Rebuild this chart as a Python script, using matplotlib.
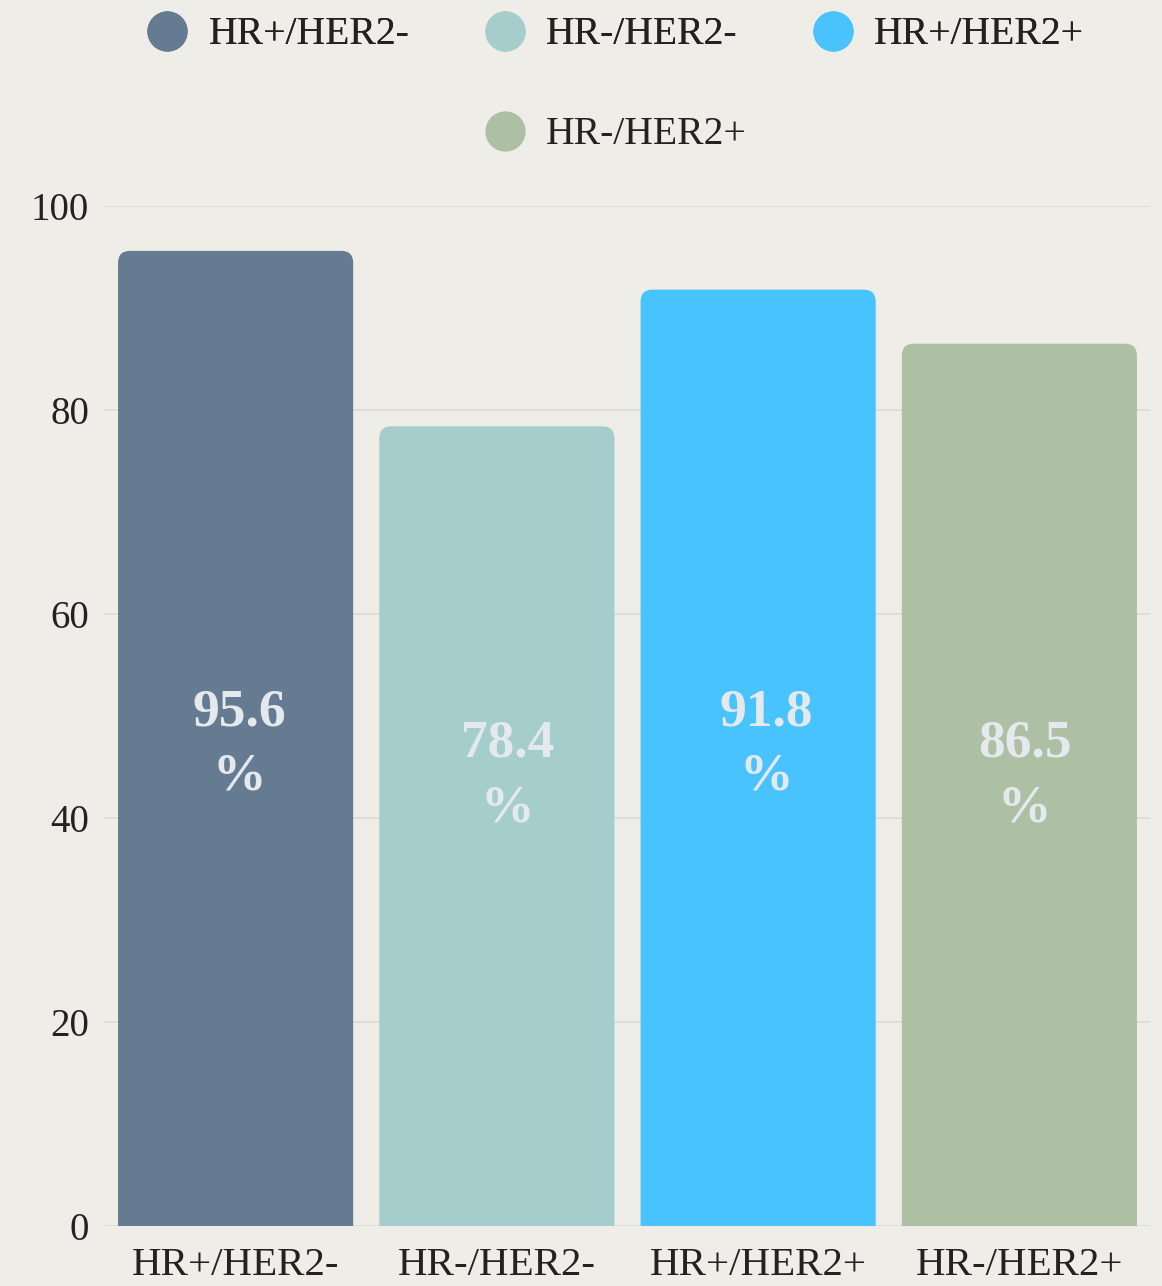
import matplotlib
matplotlib.use("Agg")
import matplotlib.pyplot as plt
from matplotlib.patches import FancyBboxPatch
from matplotlib.lines import Line2D

categories = ["HR+/HER2-", "HR-/HER2-", "HR+/HER2+", "HR-/HER2+"]
values = [95.6, 78.4, 91.8, 86.5]
value_labels = ["95.6\n%", "78.4\n%", "91.8\n%", "86.5\n%"]
y_ticks = [0, 20, 40, 60, 80, 100]

colors = ["#657b91", "#a5cdcc", "#48c3fd", "#adc0a3"]
label_y = [47.2, 44.1, 47.2, 44.1]
label_dx = [0.015, 0.04, 0.03, 0.02]
bg = "#efede8"

plt.rcParams["font.family"] = ["Liberation Serif", "DejaVu Serif"]

W, H = 1162, 1286
fig = plt.figure(figsize=(W / 100, H / 100), dpi=100, facecolor=bg)
left, right, bottom, top = 105, 1150, 1226, 206
ax = fig.add_axes([left / W, 1 - bottom / H, (right - left) / W, (bottom - top) / H])
ax.set_facecolor(bg)

x = list(range(len(categories)))
bars = ax.bar(x, values, width=0.9, color=colors, zorder=2)

# replace with rounded-top bars
band_px = (right - left) / 4.0
ypx = (bottom - top) / 100.0
r_px = 12
rx = r_px / band_px
aspect = (1 / ypx) / (1 / band_px)
for b, c in zip(bars, colors):
    b.set_visible(False)
    x0, w, h = b.get_x(), b.get_width(), b.get_height()
    ry = rx * aspect
    p = FancyBboxPatch((x0, -ry * 2), w, h + ry * 2,
                       boxstyle=f"round,pad=0,rounding_size={rx}",
                       mutation_aspect=aspect, facecolor=c, edgecolor="none",
                       zorder=2, clip_on=True)
    ax.add_patch(p)

for xi, dx, ly, lab in zip(x, label_dx, label_y, value_labels):
    ax.text(xi + dx, ly, lab, ha="center", va="center", fontsize=38.5, fontweight="bold",
            color="#e4e9ee", linespacing=1.45, zorder=3)

ax.set_xlim(-0.5, 3.5)
ax.set_ylim(0, 100)
ax.set_yticks(y_ticks)
ax.set_yticklabels([str(t) for t in y_ticks])
ax.set_xticks(x)
ax.set_xticklabels(categories, fontsize=29.5)
ax.tick_params(axis="both", length=0, labelsize=28, colors="#222222")
ax.tick_params(axis="x", labelsize=29.5)
ax.tick_params(axis="y", pad=11.5)
ax.tick_params(axis="x", pad=15)
ax.grid(axis="y", color="#dcdad5", linewidth=1.2, zorder=0)
ax.set_axisbelow(True)
for s in ax.spines.values():
    s.set_visible(False)

def handle(c):
    return Line2D([], [], linestyle="none", marker="o", markersize=29,
                  markerfacecolor=c, markeredgecolor="none")

leg1 = fig.legend([handle(c) for c in colors[:3]], categories[:3],
                  loc="center", bbox_to_anchor=(616 / W, 1 - 35 / H), ncol=3,
                  frameon=False, fontsize=28.5, handlelength=1.0,
                  handletextpad=0.55, columnspacing=1.9, labelcolor="#222222")
leg2 = fig.legend([handle(colors[3])], categories[3:],
                  loc="center", bbox_to_anchor=(616 / W, 1 - 135 / H), ncol=1,
                  frameon=False, fontsize=28.5, handlelength=1.0,
                  handletextpad=0.55, labelcolor="#222222")
fig.add_artist(leg1)

fig.savefig("out.png", dpi=100, facecolor=bg)
